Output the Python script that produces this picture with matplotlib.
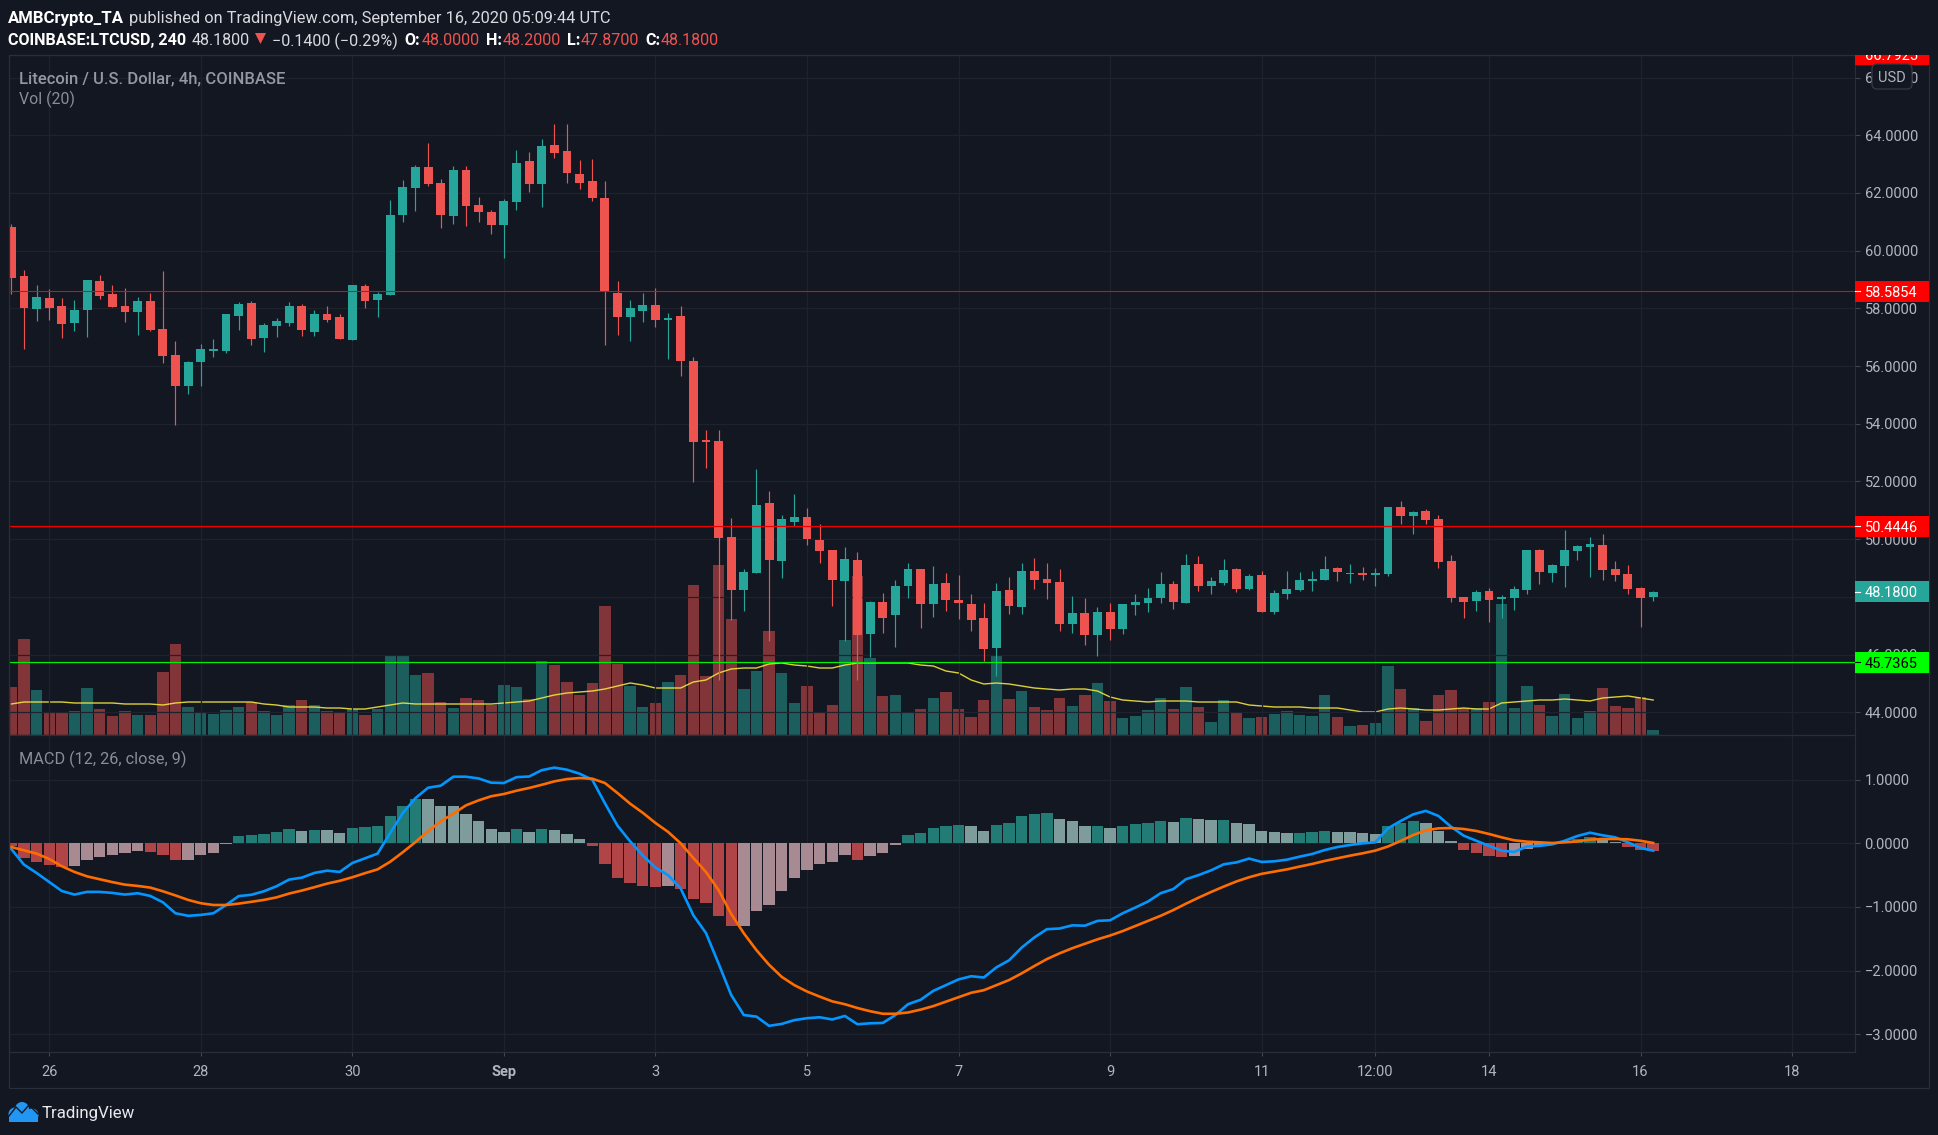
import numpy as np
import matplotlib
matplotlib.use('Agg')
import matplotlib.pyplot as plt
from matplotlib.patches import Rectangle, FancyBboxPatch, Circle, Polygon
from matplotlib.transforms import Bbox

plt.rcParams['font.family'] = ['Roboto', 'DejaVu Sans']

# 4h candles
opens = [60.82,59.12,57.98,58.36,58.08,57.49,57.94,58.95,58.50,58.08,
         57.87,58.26,57.29,56.38,55.31,56.14,56.52,56.52,57.74,58.19,
         56.97,57.39,57.49,58.08,57.18,57.81,57.70,56.90,58.78,58.29,
         58.46,61.24,62.17,62.90,62.34,61.20,62.79,61.58,61.34,60.89,
         61.68,63.11,62.31,63.66,63.45,62.65,62.41,61.82,58.53,57.70,
         57.91,58.11,57.59,57.73,56.17,53.43,53.40,50.07,48.23,48.82,
         51.25,49.24,50.59,50.77,49.97,49.62,48.55,49.27,46.71,47.82,
         47.37,48.37,48.96,47.75,48.48,47.89,47.75,47.27,46.23,48.24,
         47.65,48.90,48.62,48.52,47.06,47.44,46.68,47.48,46.89,47.72,
         47.79,47.96,48.45,47.79,49.14,48.38,48.48,48.97,48.27,48.76,
         47.48,48.10,48.24,48.55,48.58,49.00,48.79,48.83,48.76,48.79,
         51.12,50.80,50.98,50.70,49.24,48.00,47.86,48.21,47.93,47.96,
         48.24,49.63,48.83,49.07,49.59,49.73,49.80,48.97,48.79,48.31,48.00]
closes = [59.05,58.01,58.39,58.01,57.46,57.94,58.98,58.43,58.05,57.87,
          58.26,57.25,56.35,55.31,56.14,56.59,56.59,57.81,58.15,56.94,
          57.42,57.56,58.08,57.25,57.81,57.60,56.94,58.81,58.26,58.50,
          61.24,62.20,62.90,62.31,61.24,62.79,61.55,61.34,60.89,61.72,
          63.04,62.31,63.63,63.38,62.69,62.34,61.82,58.57,57.70,58.01,
          58.11,57.59,57.66,56.17,53.36,53.36,50.04,48.23,48.86,51.18,
          49.27,50.70,50.77,50.00,49.59,48.58,49.31,46.67,47.82,47.26,
          48.37,48.96,47.75,48.44,47.89,47.79,47.20,46.19,48.20,47.68,
          48.90,48.59,48.48,47.06,47.44,46.68,47.48,46.89,47.75,47.82,
          47.96,48.45,47.82,49.10,48.38,48.55,48.93,48.27,48.72,47.48,
          48.14,48.27,48.59,48.62,48.97,48.86,48.83,48.76,48.83,51.12,
          50.80,50.94,50.67,49.21,47.96,47.82,48.17,47.89,48.00,48.27,
          49.63,48.86,49.11,49.63,49.76,49.83,48.93,48.76,48.27,47.96,48.18]
highs = [60.92,59.33,58.81,58.67,58.36,58.29,58.98,59.16,58.81,58.71,
         58.39,58.53,59.30,56.87,56.18,56.77,56.94,57.81,58.22,58.26,
         57.49,57.67,58.22,58.15,57.94,58.08,57.81,58.81,58.85,58.57,
         61.76,62.45,62.97,63.73,62.48,62.93,62.93,61.86,61.41,61.79,
         63.49,63.42,63.87,64.39,64.39,63.14,63.17,62.41,58.95,58.29,
         58.53,58.70,57.84,58.08,56.31,53.78,53.78,50.73,48.96,52.43,
         51.67,50.83,51.56,51.08,50.52,49.62,49.73,49.55,47.85,48.13,
         48.58,49.17,48.96,49.07,48.83,48.76,48.10,47.79,48.48,48.69,
         49.18,49.35,49.18,48.97,48.03,47.96,47.65,47.79,47.75,48.10,
         48.31,48.86,48.55,49.49,49.42,48.69,49.31,49.00,48.79,48.90,
         48.24,48.90,48.86,48.90,49.42,49.04,49.14,49.04,49.00,51.12,
         51.32,50.98,51.05,50.84,49.45,48.00,48.24,48.31,48.07,48.38,
         49.63,49.66,49.14,50.32,49.80,50.07,50.18,49.24,49.10,48.34,48.20]
lows = [58.50,56.59,57.56,57.60,56.97,57.22,57.01,58.33,58.05,57.53,
        57.08,57.22,56.11,53.96,55.03,55.31,56.32,56.45,57.25,56.73,
        56.49,57.01,57.39,57.04,57.04,57.53,56.94,56.90,58.01,57.70,
        58.46,60.99,61.37,62.24,60.78,60.92,60.85,60.99,60.58,59.74,
        61.41,62.03,61.51,63.21,62.34,62.13,61.72,56.73,57.07,56.87,
        57.53,57.35,56.24,55.65,51.98,52.46,45.12,47.20,47.51,48.82,
        46.47,48.65,50.45,49.80,49.17,47.68,46.47,45.12,45.91,46.74,
        46.26,47.96,46.92,47.30,47.51,47.23,46.82,45.78,45.26,47.41,
        47.41,48.27,47.93,46.82,46.75,46.33,45.95,46.51,46.71,47.37,
        47.48,47.79,47.58,47.79,48.20,48.10,48.41,48.17,48.24,47.48,
        47.41,47.93,48.20,48.20,48.58,48.55,48.48,48.58,48.38,48.72,
        50.53,50.18,50.53,49.00,47.82,47.27,47.51,47.13,47.27,47.55,
        48.10,48.45,48.52,48.34,49.28,48.69,48.58,48.55,48.10,46.96,47.87]

volume = [48,96,45,22,22,24,47,26,19,24,
          20,20,63,91,28,22,21,25,28,33,
          24,20,30,35,30,24,22,26,20,26,
          80,80,60,62,33,27,37,35,30,50,
          48,36,74,70,53,40,52,129,71,49,
          28,32,53,60,150,59,170,116,46,64,
          104,62,32,49,22,30,95,159,77,39,
          40,22,26,37,43,26,18,35,79,36,
          44,28,25,37,29,40,52,34,17,19,
          25,37,26,48,28,13,35,22,17,18,
          21,24,20,19,40,18,9,10,12,69,
          46,27,14,40,45,27,27,33,131,27,
          49,30,19,41,17,24,47,29,27,38,5]
volume_ma = [31,33,33,33,33,32,32,32,32,31,
             31,31,30,32,33,33,33,33,33,33,
             31,30,28,28,28,27,27,26,26,28,
             30,32,31,31,31,31,31,31,31,32,
             33,34,37,40,42,43,44,46,49,52,
             50,47,47,47,53,55,62,66,67,67,
             71,72,70,69,67,67,70,72,72,72,
             72,72,70,69,64,62,55,51,52,51,
             49,47,46,45,46,46,44,38,35,34,
             33,34,34,34,33,33,33,33,30,29,
             28,28,28,27,27,27,25,23,23,26,
             27,26,25,25,26,27,26,26,32,33,
             34,35,35,36,35,34,37,38,39,37,35]

macd_hist = [-.05,-.225,-.29,-.335,-.38,-.35,-.257,-.21,-.18,-.16,
             -.115,-.13,-.19,-.27,-.257,-.19,-.147,-.005,.12,.125,
             .15,.183,.23,.20,.215,.21,.168,.246,.262,.265,
             .435,.59,.70,.695,.59,.585,.466,.356,.23,.183,
             .23,.183,.23,.215,.15,.073,-.037,-.32,-.54,-.63,
             -.67,-.69,-.67,-.72,-.875,-.94,-1.14,-1.30,-1.295,-1.065,
             -.97,-.75,-.55,-.42,-.33,-.30,-.185,-.265,-.20,-.155,
             -.03,.13,.16,.24,.27,.285,.27,.19,.285,.317,
             .427,.458,.474,.38,.348,.27,.275,.238,.27,.30,
             .317,.348,.335,.40,.38,.366,.37,.32,.30,.19,
             .18,.16,.165,.17,.19,.185,.18,.16,.147,.27,
             .32,.35,.32,.19,.037,-.105,-.15,-.20,-.215,-.20,
             -.09,-.03,-.015,.02,.06,.095,.085,.02,-.06,-.105,-.12]
macd_line = [-.09,-.335,-.466,-.607,-.75,-.806,-.764,-.764,-.78,-.806,
             -.785,-.827,-.927,-1.10,-1.14,-1.126,-1.10,-.97,-.83,-.81,
             -.754,-.675,-.57,-.54,-.466,-.43,-.45,-.31,-.236,-.162,
             .162,.476,.71,.874,.906,1.047,1.047,1.02,.953,.948,
             1.04,1.05,1.15,1.19,1.157,1.094,1.0,.63,.277,.03,
             -.19,-.38,-.50,-.71,-1.13,-1.41,-1.89,-2.385,-2.70,-2.725,
             -2.87,-2.84,-2.78,-2.75,-2.735,-2.77,-2.715,-2.845,-2.83,-2.825,
             -2.70,-2.53,-2.46,-2.32,-2.23,-2.14,-2.09,-2.11,-1.95,-1.84,
             -1.64,-1.48,-1.35,-1.34,-1.29,-1.295,-1.22,-1.21,-1.10,-1.01,
             -.915,-.785,-.72,-.565,-.50,-.425,-.33,-.30,-.24,-.293,
             -.283,-.257,-.21,-.168,-.105,-.058,-.026,0,.016,.235,
             .35,.455,.51,.43,.26,.12,.04,-.04,-.115,-.136,
             -.05,-.04,-.016,.04,.115,.167,.126,.094,.016,-.073,-.115]
macd_signal = [-.058,-.11,-.162,-.246,-.36,-.45,-.52,-.565,-.61,-.65,
               -.67,-.696,-.754,-.82,-.89,-.942,-.97,-.97,-.948,-.92,
               -.89,-.85,-.79,-.743,-.69,-.634,-.59,-.534,-.47,-.41,
               -.29,-.14,.02,.19,.345,.466,.597,.675,.74,.775,
               .827,.87,.92,.974,1.01,1.026,1.016,.948,.79,.623,
               .48,.32,.18,0,-.23,-.45,-.735,-1.11,-1.415,-1.68,
               -1.91,-2.10,-2.23,-2.33,-2.41,-2.485,-2.53,-2.59,-2.64,-2.68,
               -2.68,-2.66,-2.615,-2.56,-2.49,-2.42,-2.35,-2.31,-2.23,-2.15,
               -2.045,-1.93,-1.82,-1.73,-1.65,-1.58,-1.51,-1.45,-1.38,-1.30,
               -1.22,-1.14,-1.05,-.95,-.855,-.765,-.68,-.60,-.534,-.48,
               -.445,-.41,-.366,-.325,-.277,-.236,-.194,-.157,-.115,-.05,
               .037,.13,.204,.235,.24,.225,.194,.147,.094,.047,
               .026,.016,.005,.016,.03,.058,.068,.068,.063,.04,.005]

price_ticks = list(range(44, 68, 2))
macd_ticks = [1, 0, -1, -2, -3]
macd_tick_labels = ['1.0000', '0.0000', '\u22121.0000', '\u22122.0000', '\u22123.0000']
date_ticks = [3, 15, 27, 39, 51, 63, 75, 87, 99, 108, 117, 129, 141]
date_labels = ['26', '28', '30', 'Sep', '3', '5', '7', '9', '11', '12:00', '14', '16', '18']
support_resistance = [58.5854, 50.4446, 45.7365]

BG = '#131722'
GRID = '#1e222d'
BORDER = '#2a2e39'
TEXT = '#b2b5be'
UP = '#26a69a'
DOWN = '#ef5350'

W, H = 1938, 1135
fig = plt.figure(figsize=(W / 100, H / 100), dpi=100, facecolor=BG)


def pane(top, bottom):
    return fig.add_axes([8.7 / W, 1 - bottom / H, (1854.6 - 8.7) / W, (bottom - top) / H])


x = np.arange(len(closes))
o, c, hi, lo = map(np.array, (opens, closes, highs, lows))
colors = np.where(c >= o, UP, DOWN)
xlim = (-0.206, 145.95)

# volume sits behind the price axes
ax_vol = pane(55, 735)
ax_vol.set_facecolor(BG)
ax_vol.bar(x, volume, width=0.9, color=colors, alpha=0.5, linewidth=0)
ax_vol.plot(x, volume_ma, color='#f2e43c', lw=1.0, alpha=0.9)
ax_vol.set_ylim(0, 680)
ax_vol.set_xlim(xlim)
ax_vol.set_xticks([])
ax_vol.set_yticks([])

ax = pane(55, 735)
ax.patch.set_visible(False)
ax.vlines(x, lo, hi, colors=colors, lw=0.85, zorder=3)
ax.bar(x, np.abs(c - o), bottom=np.minimum(o, c), width=0.7, color=colors, linewidth=0, zorder=3)
for level, col, lw in zip(support_resistance, ['#c4161c', '#f00000', '#00f000'], [0.8, 0.9, 0.9]):
    ax.axhline(level, color=col, lw=lw, zorder=4)
ax.set_xlim(xlim)
ax.set_ylim(43.213, 66.78)
ax.set_yticks(price_ticks)
ax.set_yticklabels(['%.4f' % t for t in price_ticks])
ax.set_xticks(date_ticks)
ax.tick_params(axis='x', length=0, labelbottom=False)

# macd pane
ax2 = pane(735, 1052.3)
hist = np.array(macd_hist)
prev = np.r_[0, hist[:-1]]
hist_colors = []
for h, p in zip(hist, prev):
    if h >= 0:
        hist_colors.append('#227b74' if h > p else '#7f9c9c')
    else:
        hist_colors.append('#b04446' if h < p else '#a88a92')
ax2.bar(x, hist, width=0.9, color=hist_colors, linewidth=0, zorder=2)
ax2.plot(x, macd_line, color='#0496ff', lw=1.9, zorder=3)
ax2.plot(x, macd_signal, color='#ff6d00', lw=1.9, zorder=4)
ax2.set_xlim(xlim)
ax2.set_ylim(-3.286, 1.703)
ax2.set_yticks(macd_ticks)
ax2.set_yticklabels(macd_tick_labels)
ax2.set_xticks(date_ticks)
ax2.set_xticklabels(date_labels)
ax2.set_facecolor(BG)
ax2.tick_params(axis='x', length=3, width=0.8, color='#434651', pad=6.5, labelsize=10.5, labelcolor=TEXT)
ax2.get_xticklabels()[3].set_fontweight('bold')

for a in (ax, ax2):
    a.yaxis.tick_right()
    a.tick_params(axis='y', length=3.6, width=0.8, color='#434651', pad=3.6, labelsize=10.5, labelcolor=TEXT)
    a.grid(True, color=GRID, lw=0.9)
    a.set_axisbelow(True)
    for s in a.spines.values():
        s.set_color(BORDER)
        s.set_linewidth(0.9)
    for lab in a.get_yticklabels():
        lab.set_va('center_baseline')
ax.set_zorder(3)
ax_vol.set_zorder(2)
ax2.set_zorder(3)

# overlay in pixel coordinates for header, price labels and logo
ov = fig.add_axes([0, 0, 1, 1], zorder=10)
ov.set_xlim(0, W)
ov.set_ylim(H, 0)
ov.axis('off')
ov.add_patch(Rectangle((8.7, 55), 1929 - 8.7, 1088 - 55, fill=False, ec=BORDER, lw=0.9))


def txt(px, py, s, color='#ffffff', size=11.6, weight='normal', ha='left'):
    return ov.text(px, py, s, color=color, fontsize=size, fontweight=weight, ha=ha, va='center_baseline')


txt(8, 17, 'AMBCrypto_TA', weight='bold', size=12.1)
txt(129, 17, 'published on TradingView.com, September 16, 2020 05:09:44 UTC', color='#d9dae0', size=11.75)
txt(8, 39, 'COINBASE:LTCUSD, 240', weight='bold')
txt(192, 39, '48.1800', color='#d9dae0')
ov.add_patch(Polygon([(255, 33), (266, 33), (260.5, 44)], fc=DOWN, ec='none'))
txt(272.5, 39, '\u22120.1400 (\u22120.29%)', color='#d9dae0')
for px, lab, vx, val in [(404, 'O:', 422, '48.0000'), (486, 'H:', 503, '48.2000'),
                         (567, 'L:', 581, '47.8700'), (645, 'C:', 661, '48.1800')]:
    txt(px, 39, lab, weight='bold')
    txt(vx, 39, val, color=DOWN)
txt(19, 77, 'Litecoin / U.S. Dollar, 4h, COINBASE', color='#9598a1', size=11.95, weight='medium')
txt(19, 97, 'Vol (20)', color='#8a8d96', size=11.4)
txt(19, 757, 'MACD (12, 26, close, 9)', color='#8a8d96', size=11.7)


def price_y(p):
    return H - ax.transData.transform((0, p))[1]


for p, fc, tc in [(58.5854, '#ff0000', '#ffffff'), (50.4446, '#ff0000', '#ffffff'),
                  (48.18, UP, '#ffffff'), (45.7365, '#00ff00', '#000000')]:
    y = price_y(p)
    ov.add_patch(Rectangle((1854.6, y - 10.5), 74.4, 21, fc=fc, ec='none'))
    ov.plot([1854.6, 1859.6], [y, y], color=tc, lw=0.8)
    txt(1865, y, '%.4f' % p, color=tc, size=10.5)

# alert label cut off by the top of the pane
y = price_y(66.7925)
ov.add_patch(Rectangle((1854.6, 55), 74.4, 10, fc='#ff0000', ec='none'))
clipped = txt(1865, y, '66.7925', size=10.5)
clipped.set_clip_box(Bbox([[1854.6, H - 65], [1929, H - 55]]))
clipped.set_clip_on(True)

ov.add_patch(FancyBboxPatch((1875, 67), 34, 19, boxstyle='round,pad=3,rounding_size=5',
                            fc=BG, ec='#363a45', lw=0.9))
txt(1892, 76.5, 'USD', color=TEXT, size=10.5, ha='center')

# TradingView logo
for cx, cy, r in [(15, 1114, 6.5), (22, 1109, 7), (32, 1115, 6.5)]:
    ov.add_patch(Circle((cx, cy), r, fc='#2196f3', ec='none'))
ov.add_patch(Rectangle((9, 1114), 29.5, 7.5, fc='#2196f3', ec='none'))
ov.plot([9, 16, 22, 29, 38], [1116, 1107, 1113, 1105, 1114], color=BG, lw=1.0)
txt(42, 1112, 'TradingView', color='#e8e9ec', size=12.2)

fig.savefig('out.png', dpi=100, facecolor=BG)
